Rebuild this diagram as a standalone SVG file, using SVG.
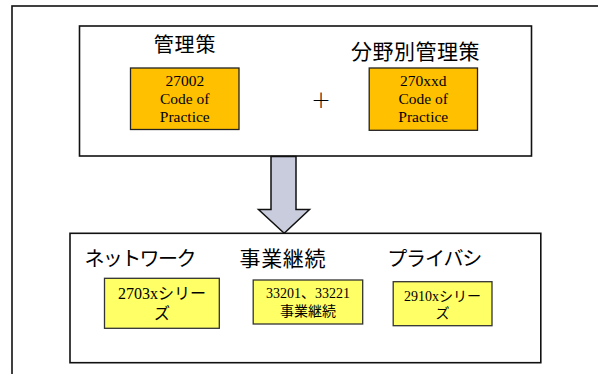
<svg xmlns="http://www.w3.org/2000/svg" width="598" height="374" viewBox="0 0 598 374">
<style>
.frame{fill:#fff;stroke:#111;stroke-width:1.6}
.org{fill:#FFC000;stroke:#222;stroke-width:1.3}
.yel{fill:#FFFF66;stroke:#333;stroke-width:1.3}
.ttl{font-family:"Noto Sans CJK JP",sans-serif;font-size:20px;fill:#000;text-anchor:middle}
.lat{fill:#000;text-anchor:middle}
</style>
<rect x="12" y="6" width="600" height="400" class="frame"/>
<g id="top-box">
<rect x="79.5" y="26" width="452" height="130" class="frame"/>
<text class="ttl" x="185" y="52" style="letter-spacing:0.8px">管理策</text>
<text class="ttl" x="415.5" y="58.5" style="font-size:21px;letter-spacing:0.5px">分野別管理策</text>
<text class="ttl" x="321" y="108" style="font-size:20px;font-weight:300">＋</text>
</g>
<g id="code27002">
<rect x="130.5" y="68" width="108.5" height="61.5" class="org"/>
<text class="lat" font-family="Liberation Serif, serif" font-size="15.5"><tspan x="184.8" y="85.7">27002</tspan><tspan x="184.8" y="104">Code of</tspan><tspan x="184.8" y="121.7">Practice</tspan></text>
</g>
<g id="code270xxd">
<rect x="369.2" y="68" width="108.3" height="62.3" class="org"/>
<text class="lat" font-family="Liberation Serif, serif" font-size="15.5"><tspan x="423.3" y="85.7">270xxd</tspan><tspan x="423.3" y="104">Code of</tspan><tspan x="423.3" y="121.7">Practice</tspan></text>
</g>
<g id="connectors">
<path d="M271,156.5 H296 V209.5 H309.5 L284.2,233.3 L258.5,209.5 H271 Z" fill="#C8CCDC" stroke="#111" stroke-width="1.5" stroke-linejoin="miter"/>
</g>
<g id="bottom-box">
<rect x="70" y="233.3" width="470.8" height="129.4" class="frame"/>
<text class="ttl" x="139.6" y="265.5" style="letter-spacing:-1.6px">ネットワーク</text>
<text class="ttl" x="282.8" y="265.5" style="font-size:21px;letter-spacing:0.6px">事業継続</text>
<text class="ttl" x="434.2" y="265.5" style="letter-spacing:-1.1px">プライバシ</text>
</g>
<g id="series2703x">
<rect x="104.5" y="278.3" width="114.8" height="50" class="yel"/>
<text class="lat" font-family="Liberation Serif, Noto Sans CJK JP, serif" font-size="16"><tspan x="161.9" y="299.3">2703xシリー</tspan><tspan x="161.9" y="319.3">ズ</tspan></text>
</g>
<g id="bc33201">
<rect x="253.2" y="280" width="109.5" height="44" class="yel"/>
<text class="lat" font-family="Liberation Serif, Noto Sans CJK JP, serif" font-size="14"><tspan x="308" y="298.3">33201、33221</tspan><tspan x="308" y="315.7">事業継続</tspan></text>
</g>
<g id="series2910x">
<rect x="393.2" y="281.7" width="98.8" height="44" class="yel"/>
<text class="lat" font-family="Liberation Serif, Noto Sans CJK JP, serif" font-size="14"><tspan x="442.6" y="300.7">2910xシリー</tspan><tspan x="442.6" y="318.3">ズ</tspan></text>
</g>
</svg>
